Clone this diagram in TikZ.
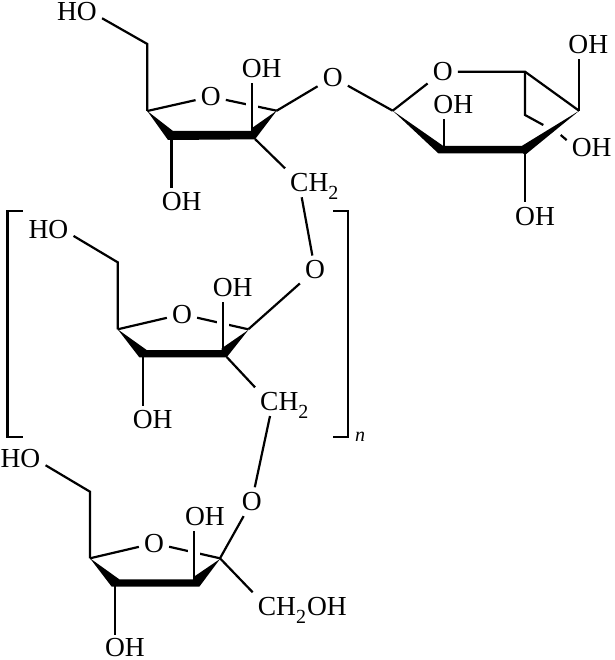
\documentclass[tikz,border=0pt]{standalone}
\usepackage{fontspec}
\setmainfont{Liberation Serif}
\usepackage{tikz}
\tikzstyle{atom} = [inner sep=5pt, font=\fontsize{27.5}{27.5}\selectfont]
\tikzstyle{index} = [inner sep=0pt, font=\fontsize{20}{20}\selectfont\itshape]
\tikzstyle{bond} = [line width=2.2pt]
\tikzstyle{thickbond} = [line width=3.4pt]
\tikzstyle{overbond} = [bond, preaction={draw=white, line width=12pt}]
\tikzstyle{wedge} = [fill=black]
\newcommand{\subtwo}{\raisebox{-8pt}{\fontsize{20}{20}\selectfont 2}}

\begin{document}
\begin{tikzpicture}[x=1pt, y=-1pt]
	\useasboundingbox (0,0) rectangle (614,660);

	% top ring
	\coordinate (ring1_c6) at (147.3,44);
	\coordinate (ring1_c5) at (147.3,111);
	\coordinate (ring1_c4) at (171.5,135);
	\coordinate (ring1_c3) at (252.3,135);
	\coordinate (ring1_c2) at (276.7,110.7);
	\coordinate (ring1_c3b) at (255,139);
	\node(ring1_ho) [atom] at (77,12) {HO};
	\node(ring1_o) [atom] at (210.7,96.7) {O};
	\node(ring1_up) [atom] at (261.7,69) {OH};
	\node(ring1_down) [atom] at (181.7,202) {OH};
	\node(ring1_ch2) [atom, anchor=base west] at (285,191.7) {CH\subtwo};
	\node(link_o) [atom] at (332.7,77.3) {O};

	\draw[bond] (ring1_ho.-14) -- (ring1_c6) -- (ring1_c5);
	\draw[bond] (ring1_c5) -- (ring1_o);
	\draw[bond] (ring1_o) -- (ring1_c2);
	\draw[overbond] (ring1_c3) -- (ring1_c3 |- ring1_up.south);
	\draw[thickbond] (ring1_c4) -- (ring1_c4 |- ring1_down.north);
	\draw[bond] (ring1_c2) -- (link_o);
	\draw[bond] (ring1_c3b) -- (ring1_ch2.north west);
	\fill[wedge] (147.3,111) -- (173,131) -- (252,131) -- (252,128) -- (276.7,110.7) -- (255,139.3) -- (168,140) -- cycle;

	% six membered ring on the right
	\coordinate (pyr_c1) at (392.7,110.7);
	\coordinate (pyr_c2) at (444,150);
	\coordinate (pyr_c3) at (524.7,150);
	\coordinate (pyr_c4) at (579,110.7);
	\coordinate (pyr_c5) at (525,71.7);
	\coordinate (pyr_c6) at (525,115);
	\coordinate (pyr_gap_a) at (543.3,125);
	\coordinate (pyr_gap_b) at (560.7,135);
	\node(pyr_o) [atom] at (442.7,71.7) {O};
	\node(pyr_mid) [atom] at (453.3,105) {OH};
	\node(pyr_up) [atom] at (588.3,45) {OH};
	\node(pyr_right) [atom] at (591.7,147.3) {OH};
	\node(pyr_down) [atom] at (535,216.7) {OH};

	\draw[bond] (link_o) -- (pyr_c1);
	\draw[bond] (pyr_c1) -- (pyr_o);
	\draw[bond] (pyr_o) -- (pyr_c5) -- (pyr_c4);
	\draw[bond] (pyr_c5) -- (pyr_c6) -- (pyr_gap_a);
	\draw[bond] (pyr_gap_b) -- (pyr_right.164);
	\draw[bond] (pyr_c2) -- (pyr_c2 |- pyr_mid.south);
	\draw[bond] (pyr_c4) -- (pyr_c4 |- pyr_up.south);
	\draw[bond] (pyr_c3) -- (pyr_c3 |- pyr_down.north);
	\fill[wedge] (392.7,110.7) -- (443.3,146) -- (521.7,146) -- (579.3,110.7) -- (525,155) -- (523,153.3) -- (438.3,153.3) -- cycle;

	% middle ring, the repeating unit
	\coordinate (ring2_c6) at (117.7,262.3);
	\coordinate (ring2_c5) at (117.7,329.3);
	\coordinate (ring2_c4) at (143.3,354);
	\coordinate (ring2_c3) at (222.7,354);
	\coordinate (ring2_c2) at (248.3,329.3);
	\coordinate (ring2_c3b) at (226.7,357);
	\node(ring2_ho) [atom] at (48.5,229.7) {HO};
	\node(ring2_o) [atom] at (182,314.3) {O};
	\node(ring2_up) [atom] at (232.7,287.7) {OH};
	\node(ring2_down) [atom] at (152.7,420) {OH};
	\node(ring2_ch2) [atom, anchor=base west] at (255,410.7) {CH\subtwo};
	\node(ring2_link) [atom] at (315,270) {O};

	\draw[bond] (ring2_ho.-14) -- (ring2_c6) -- (ring2_c5);
	\draw[bond] (ring2_c5) -- (ring2_o);
	\draw[bond] (ring2_o) -- (ring2_c2);
	\draw[overbond] (ring2_c3) -- (ring2_c3 |- ring2_up.south);
	\draw[bond] (ring2_c4) -- (ring2_c4 |- ring2_down.north);
	\draw[bond] (ring2_c2) -- (ring2_link);
	\draw[bond] (ring2_link) -- ([xshift=16.7pt,yshift=-5.6pt]ring1_ch2.base west);
	\draw[bond] (ring2_c3b) -- (ring2_ch2.north west);
	\fill[wedge] (117.7,329.3) -- (146.7,350) -- (221.7,350) -- (221.7,348.3) -- (248.3,330) -- (226.7,357.3) -- (139.3,357.3) -- cycle;

	% brackets
	\coordinate (left_top_end) at (22.7,211);
	\coordinate (left_top) at (7.5,211);
	\coordinate (left_bot) at (7.5,436.7);
	\coordinate (left_bot_end) at (22.7,436.7);
	\coordinate (right_top_end) at (333,211);
	\coordinate (right_top) at (347.7,211);
	\coordinate (right_bot) at (347.7,436.7);
	\coordinate (right_bot_end) at (333,436.7);
	\node(repeat_n) [index, anchor=base] at (360,441.7) {n};
	\draw[bond] (left_top_end) -- (left_top) -- (left_bot) -- (left_bot_end);
	\draw[bond] (right_top_end) -- (right_top) -- (right_bot) -- (right_bot_end);

	% bottom ring
	\coordinate (ring3_c6) at (90,491.7);
	\coordinate (ring3_c5) at (90,558.3);
	\coordinate (ring3_c4) at (115,581.7);
	\coordinate (ring3_c3) at (194.3,581.7);
	\coordinate (ring3_c2) at (220,558.3);
	\node(ring3_ho) [atom] at (20.5,459) {HO};
	\node(ring3_o) [atom] at (154,543.3) {O};
	\node(ring3_up) [atom] at (205,516.7) {OH};
	\node(ring3_down) [atom, inner ysep=0pt] at (125,648) {OH};
	\node(ring3_ch2oh) [atom, anchor=base west] at (252.7,615.7) {CH\subtwo\kern1pt OH};
	\node(ring3_link) [atom] at (251.7,501.7) {O};

	\draw[bond] (ring3_ho.-14) -- (ring3_c6) -- (ring3_c5);
	\draw[bond] (ring3_c5) -- (ring3_o);
	\draw[bond] (ring3_o) -- (ring3_c2);
	\draw[overbond] (ring3_c3) -- (ring3_c3 |- ring3_up.south);
	\draw[bond, shorten >=4pt] (ring3_c4) -- (ring3_c4 |- ring3_down.north);
	\draw[bond] (ring3_c2) -- (ring3_link);
	\draw[bond] (ring3_link) -- ([xshift=15pt,yshift=-5.3pt]ring2_ch2.base west);
	\draw[bond] (ring3_c2) -- (ring3_ch2oh.north west);
	\fill[wedge] (90,558.3) -- (119.3,579.3) -- (195,579.3) -- (195,576) -- (220,559) -- (199.3,586.7) -- (111.7,586.7) -- cycle;
\end{tikzpicture}
\end{document}
